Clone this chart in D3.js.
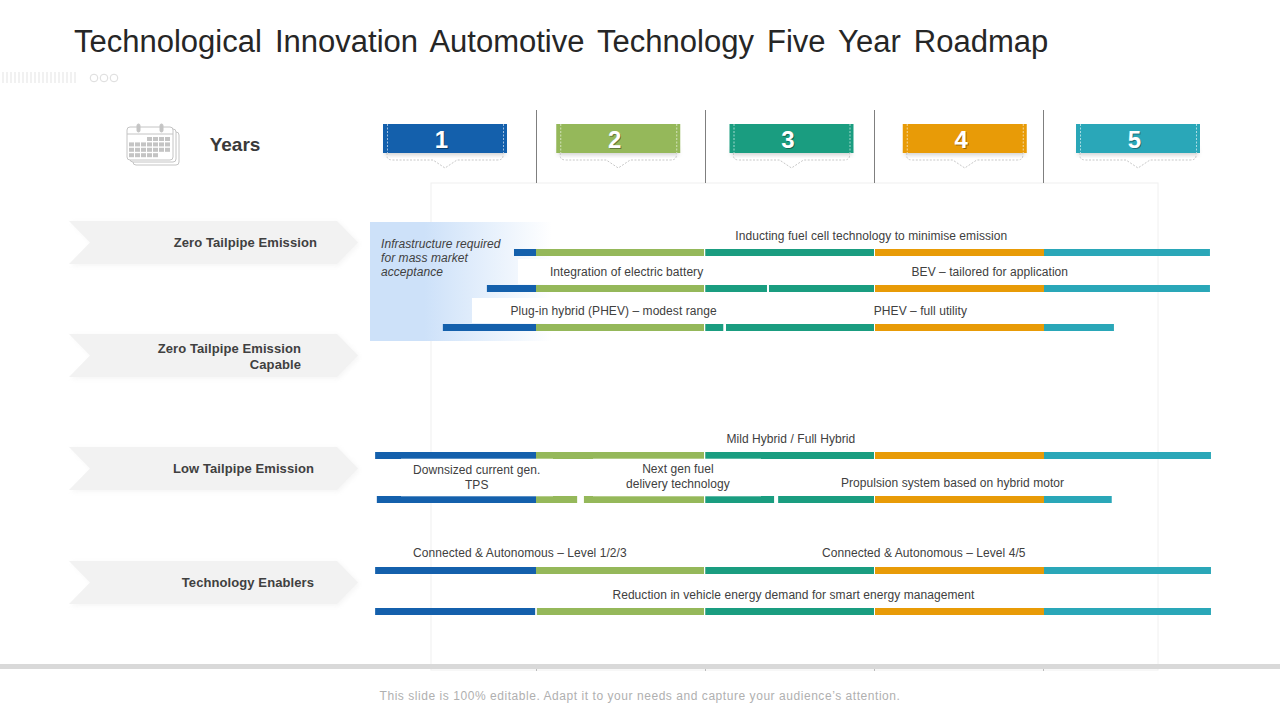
<!DOCTYPE html>
<html>
<head>
<meta charset="utf-8">
<script src="https://cdn.jsdelivr.net/npm/d3@7"></script>
<style>
	html, body { margin: 0; padding: 0; background: #fff; }
	svg { display: block; }
	text { font-family: "Liberation Sans", Arial, sans-serif; }
</style>
</head>
<body>
<svg id="chart" width="1280" height="720"></svg>
<script>
// data, x values are in years from the start of the roadmap, lanes count from the top bar
var years = ['1', '2', '3', '4', '5']
var yearColors = ['#1460ac', '#95b85a', '#1a9d80', '#e89b07', '#2aa7b8']
var categories = [['Zero Tailpipe Emission'], ['Zero Tailpipe Emission', 'Capable'], ['Low Tailpipe Emission'], ['Technology Enablers']]
var barLanes = [0, 0.9, 1.875, 5.075, 6.175, 7.95, 8.975]
var barStarts = [0.87, 0.71, 0.45, 0.05, 0.06, 0.05, 0.05]
var barEnds = [4.98, 4.98, 4.413, 4.986, 4.40, 4.986, 4.986]
var barGaps = [[], [[2.364, 2.376]], [[2.106, 2.122]], [], [[1.243, 1.283], [2.406, 2.43]], [], [[0.995, 1.005]]]
var labels = [
	{text: ['Inducting fuel cell technology to minimise emission'], year: 2.98, lane: 0},
	{text: ['Integration of electric battery'], year: 1.535, lane: 0.9},
	{text: ['BEV – tailored for application'], year: 3.68, lane: 0.9},
	{text: ['Plug-in hybrid (PHEV) – modest range'], year: 1.458, lane: 1.875},
	{text: ['PHEV – full utility'], year: 3.27, lane: 1.875},
	{text: ['Mild Hybrid / Full Hybrid'], year: 2.505, lane: 5.075},
	{text: ['Downsized current gen.', 'TPS'], year: 0.65, lane: 6.225},
	{text: ['Next gen fuel', 'delivery technology'], year: 1.838, lane: 6.2},
	{text: ['Propulsion system based on hybrid motor'], year: 3.46, lane: 6.175},
	{text: ['Connected & Autonomous – Level 1/2/3'], year: 0.905, lane: 7.925},
	{text: ['Connected & Autonomous – Level 4/5'], year: 3.29, lane: 7.925},
	{text: ['Reduction in vehicle energy demand for smart energy management'], year: 2.52, lane: 8.975}
]
var title = 'Technological Innovation Automotive Technology Five Year Roadmap'
var footer = 'This slide is 100% editable. Adapt it to your needs and capture your audience’s attention.'
var note = ['Infrastructure required', 'for mass market', 'acceptance']

var svg = d3.select('#chart')
var x = d3.scaleLinear().domain([0, 5]).range([366.67, 1213.33])
var y = d3.scaleLinear().domain([0, 9]).range([249, 609])
var badge = d3.scalePoint().domain(years).range([383, 1076])
var barH = 7

var defs = svg.append('defs')
var grad = defs.append('linearGradient').attr('id', 'noteFill')
grad.append('stop').attr('offset', '0.3').attr('stop-color', '#cde1f9')
grad.append('stop').attr('offset', '1').attr('stop-color', '#ffffff')
var blur = defs.append('filter').attr('id', 'soft').attr('x', '-10%').attr('y', '-30%').attr('width', '120%').attr('height', '170%')
blur.append('feGaussianBlur').attr('stdDeviation', 2)

// title and decoration
svg.append('text').attr('x', 74).attr('y', 52).attr('font-size', 31).attr('fill', '#262626')
	.attr('word-spacing', 4.5).text(title)
svg.append('g').selectAll('rect').data(d3.range(19)).enter().append('rect')
	.attr('x', d => 2 + d * 4).attr('y', 72).attr('width', 2).attr('height', 11).attr('fill', '#f1f1f1')
svg.append('g').selectAll('circle').data([94, 104, 114]).enter().append('circle')
	.attr('cx', d => d).attr('cy', 78).attr('r', 3.8).attr('fill', 'none').attr('stroke', '#dcdcdc')

// frame behind the bars
svg.append('rect').attr('x', 431).attr('y', 183).attr('width', 727).attr('height', 487)
	.attr('fill', 'none').attr('stroke', '#f0f0f0')
svg.append('g').selectAll('line').data([1, 2, 3, 4]).enter().append('line')
	.attr('x1', d => Math.floor(x(d)) + 0.5).attr('x2', d => Math.floor(x(d)) + 0.5).attr('y1', 110).attr('y2', 183)
	.attr('stroke', '#7f7f7f')
svg.append('g').selectAll('line').data([1, 2, 3, 4]).enter().append('line')
	.attr('x1', d => Math.floor(x(d)) + 0.5).attr('x2', d => Math.floor(x(d)) + 0.5).attr('y1', 669).attr('y2', 671)
	.attr('stroke', '#bdbdbd')

// calendar icon
var cal = svg.append('g').attr('fill', '#fff').attr('stroke', '#c4c4c4')
cal.append('rect').attr('x', 133).attr('y', 132).attr('width', 46).attr('height', 33).attr('rx', 3)
cal.append('rect').attr('x', 130).attr('y', 129).attr('width', 46).attr('height', 33).attr('rx', 3)
cal.append('rect').attr('x', 127).attr('y', 127).attr('width', 46).attr('height', 33).attr('rx', 3)
cal.append('line').attr('x1', 127).attr('x2', 173).attr('y1', 134).attr('y2', 134)
cal.selectAll('.ring').data([137, 160]).enter().append('rect').attr('class', 'ring')
	.attr('x', d => d).attr('y', 124).attr('width', 3).attr('height', 8).attr('rx', 1.5).attr('fill', '#c4c4c4')
var cells = []
for (var r = 0; r < 4; r++) {
	for (var c = 0; c < 7; c++) {
		if ((r == 0 && c < 3) || (r == 3 && c > 4)) continue
		cells.push([c, r])
	}
}
svg.append('g').selectAll('rect').data(cells).enter().append('rect')
	.attr('x', d => 129 + d[0] * 6).attr('y', d => 137 + d[1] * 5.4)
	.attr('width', 5).attr('height', 4).attr('fill', '#c4c4c4')
svg.append('text').attr('x', 235).attr('y', 151).attr('text-anchor', 'middle')
	.attr('font-size', 19).attr('font-weight', 'bold').attr('fill', '#3a3a3a').text('Years')

// year badges
var b = svg.append('g').selectAll('g').data(years).enter().append('g')
	.attr('transform', d => 'translate(' + badge(d) + ',124)')
b.append('rect').attr('x', 2).attr('y', 24).attr('width', 120).attr('height', 7)
	.attr('fill', '#999').attr('opacity', 0.45).attr('filter', 'url(#soft)')
b.append('path')
	.attr('d', 'M4,29 V32 Q4,36 10,36 H50 L62,44 L74,36 H114 Q120,36 120,32 V29')
	.attr('fill', 'none').attr('stroke', '#c8c8c8').attr('stroke-dasharray', '2 1.5')
b.append('rect').attr('width', 124).attr('height', 29).attr('fill', (d, i) => yearColors[i])
b.selectAll('.edge').data([4.5, 120.5]).enter().append('line').attr('class', 'edge')
	.attr('x1', d => d).attr('x2', d => d).attr('y1', 0).attr('y2', 29)
	.attr('stroke', '#fff').attr('stroke-opacity', 0.6).attr('stroke-dasharray', '2 1.5')
b.append('text').attr('x', 58.5).attr('y', 24).attr('text-anchor', 'middle').attr('font-size', 24)
	.attr('font-weight', 'bold').attr('fill', '#000').attr('opacity', 0.35).attr('dx', 1).attr('dy', 1).text(d => d)
b.append('text').attr('x', 58.5).attr('y', 24).attr('text-anchor', 'middle').attr('font-size', 24)
	.attr('font-weight', 'bold').attr('fill', '#fff').text(d => d)

// category arrows
var catTops = [221, 334, 447, 561]
var cat = svg.append('g').selectAll('g').data(categories).enter().append('g')
	.attr('transform', (d, i) => 'translate(69,' + catTops[i] + ')')
cat.append('path').attr('d', 'M2,1 H270 L291,23 L270,45 H2 L23,23 Z')
	.attr('fill', '#dcdcdc').attr('opacity', 0.25).attr('filter', 'url(#soft)')
cat.append('path').attr('d', 'M0,0 H268 L289,21.5 L268,43 H0 L21,21.5 Z').attr('fill', '#f2f2f2')
var catEnds = [248, 232, 245, 245]
cat.each(function(d, i) {
	var t = d3.select(this).append('text').attr('text-anchor', 'end').attr('font-size', 13)
		.attr('letter-spacing', 0.09).attr('font-weight', 'bold').attr('fill', '#404040')
	d.forEach(function(line, k) {
		t.append('tspan').attr('x', catEnds[i]).attr('y', (d.length > 1 ? 19 : 26) + k * 16).text(line)
	})
})

// note box with the fade into the bars
svg.append('rect').attr('x', 370).attr('y', 222).attr('width', 182).attr('height', 119).attr('fill', 'url(#noteFill)')
var n = svg.append('text').attr('font-size', 12).attr('font-style', 'italic')
	.attr('letter-spacing', 0.06).attr('fill', '#404040')
note.forEach(function(line, i) {
	n.append('tspan').attr('x', 381).attr('y', 248 + i * 14).text(line)
})

// white plates that sit behind the labels
var plates = [[518, 259, 190, 25], [472, 298, 240, 25]]
svg.append('g').selectAll('rect').data(plates).enter().append('rect')
	.attr('x', d => d[0]).attr('y', d => d[1]).attr('width', d => d[2]).attr('height', d => d[3]).attr('fill', '#fff')

// bars, cut into one piece per year and around the gaps
var pieces = []
barLanes.forEach(function(lane, i) {
	var spans = []
	var from = barStarts[i]
	barGaps[i].forEach(function(g) {
		spans.push([from, g[0]])
		from = g[1]
	})
	spans.push([from, barEnds[i]])
	spans.forEach(function(s) {
		years.forEach(function(yr, k) {
			var a = Math.max(s[0], k), e = Math.min(s[1], k + 1)
			if (e > a) pieces.push({lane: lane, a: a, e: e, k: k})
		})
	})
})
svg.append('g').selectAll('rect').data(pieces).enter().append('rect')
	.attr('x', d => x(d.a)).attr('y', d => y(d.lane)).attr('width', d => x(d.e) - x(d.a)).attr('height', barH)
	.attr('fill', d => yearColors[d.k])
// thin white seams at the second and third year lines
svg.append('g').selectAll('rect').data(barLanes.flatMap(l => [[l, 2], [l, 3]])).enter().append('rect')
	.attr('x', d => Math.round(x(d[1])) - 1).attr('y', d => y(d[0])).attr('width', 1).attr('height', barH).attr('fill', '#fff')

// plates over the low tailpipe bars
var topPlates = [[401, 458.7, 152, 37.6], [593, 458.7, 168, 37.6]]
svg.append('g').selectAll('rect').data(topPlates).enter().append('rect')
	.attr('x', d => d[0]).attr('y', d => d[1]).attr('width', d => d[2]).attr('height', d => d[3]).attr('fill', '#fff')

// bar labels
var lab = svg.append('g').selectAll('text').data(labels).enter().append('text')
	.attr('text-anchor', 'middle').attr('font-size', 12).attr('letter-spacing', 0.06).attr('fill', '#404040')
lab.each(function(d) {
	var t = d3.select(this)
	var up = d.text.length > 1 ? 24 : 9
	d.text.forEach(function(line, k) {
		t.append('tspan').attr('x', x(d.year)).attr('y', y(d.lane) - up + k * 14.5).text(line)
	})
})

// base band and footer
svg.append('rect').attr('x', 0).attr('y', 664).attr('width', 1280).attr('height', 5).attr('fill', '#d9d9d9')
svg.append('text').attr('x', 640).attr('y', 700).attr('text-anchor', 'middle').attr('font-size', 12)
	.attr('letter-spacing', 0.55).attr('fill', '#b0b0b0').text(footer)
</script>
</body>
</html>
